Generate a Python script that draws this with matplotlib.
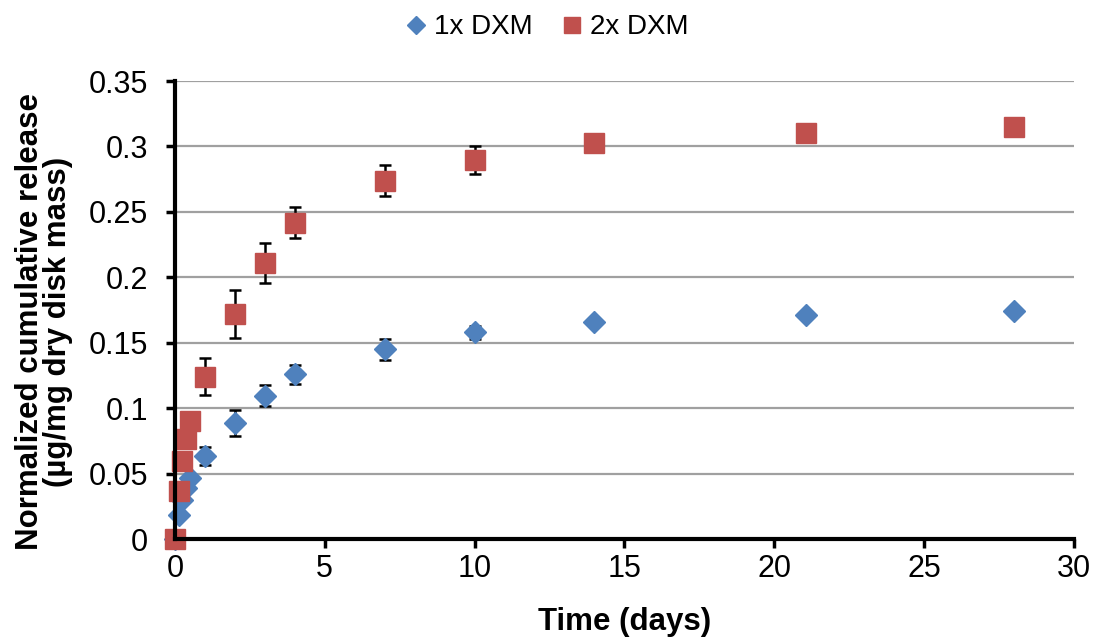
import matplotlib
matplotlib.use("Agg")
import matplotlib.pyplot as plt

plt.rcParams['font.family'] = ['Liberation Sans', 'DejaVu Sans']

# Data (days, normalized cumulative release)
t = [0, 0.125, 0.25, 0.375, 0.5, 1, 2, 3, 4, 7, 10, 14, 21.05, 28]
x1_vals = [0, 0.0183, 0.0298, 0.0388, 0.0464, 0.0637, 0.089, 0.1095, 0.1258, 0.1452, 0.158, 0.1658, 0.1712, 0.1742]
x1_err = [0, 0.003, 0.003, 0.003, 0.003, 0.007, 0.010, 0.008, 0.007, 0.008, 0.005, 0.002, 0.001, 0.001]
x2_vals = [0, 0.0369, 0.0599, 0.0762, 0.0905, 0.124, 0.172, 0.211, 0.2417, 0.2738, 0.2896, 0.3026, 0.3102, 0.3148]
x2_err = [0, 0.002, 0.002, 0.002, 0.002, 0.014, 0.018, 0.015, 0.012, 0.012, 0.0105, 0.001, 0.001, 0.001]

series_names = ["1x DXM", "2x DXM"]
yticks = [0, 0.05, 0.1, 0.15, 0.2, 0.25, 0.3, 0.35]
ytick_labels = ["0", "0.05", "0.1", "0.15", "0.2", "0.25", "0.3", "0.35"]
xticks = [0, 5, 10, 15, 20, 25, 30]

blue = "#4F81BD"
red = "#C0504D"

fig = plt.figure(figsize=(10.93, 6.38), dpi=100)
ax = fig.add_axes([0.160, 0.155, 0.8226, 0.718])

ax.errorbar(t, x1_vals, yerr=x1_err, fmt='none', ecolor='black', elinewidth=1.8,
            capsize=4.5, capthick=1.8, zorder=2)
ax.errorbar(t, x2_vals, yerr=x2_err, fmt='none', ecolor='black', elinewidth=1.8,
            capsize=4.5, capthick=1.8, zorder=2)
ax.plot(t, x1_vals, linestyle='none', marker='D', markersize=11, color=blue,
        markeredgecolor=blue, label=series_names[0], zorder=3)
ax.plot(t, x2_vals, linestyle='none', marker='s', markersize=14, color=red,
        markeredgecolor=red, label=series_names[1], zorder=4)

ax.set_xlim(0, 30)
ax.set_ylim(0, 0.35)
ax.set_xticks(xticks)
ax.set_xticklabels([str(v) for v in xticks])
ax.set_yticks(yticks)
ax.set_yticklabels(ytick_labels)
ax.grid(axis='y', color='#A0A0A0', linewidth=1.6)
ax.set_axisbelow(True)
for s in ['top', 'right']:
    ax.spines[s].set_visible(False)
for s in ['left', 'bottom']:
    ax.spines[s].set_linewidth(3)
ax.tick_params(axis='both', direction='out', length=6.5, width=2.5, labelsize=22)
ax.tick_params(axis='y', pad=13)
ax.tick_params(axis='x', pad=4)

ax.set_xlabel("Time (days)", fontsize=22.5, fontweight='bold', labelpad=17)
ax.set_ylabel("Normalized cumulative release\n(µg/mg dry disk mass)", fontsize=22.5,
              fontweight='bold', linespacing=0.92)
ax.yaxis.set_label_coords(-0.113, 0.475)

for spine in ax.spines.values():
    spine.set_zorder(5)
for artist in ax.lines:
    artist.set_clip_on(False)
for coll in ax.collections:
    coll.set_clip_on(False)

fig.legend(loc='center', bbox_to_anchor=(0.50, 0.957), ncol=2, frameon=False,
           fontsize=20, handlelength=0.8, handletextpad=0.25, columnspacing=1.0,
           markerscale=0.8, borderpad=0)

fig.savefig("out.png", dpi=100)
